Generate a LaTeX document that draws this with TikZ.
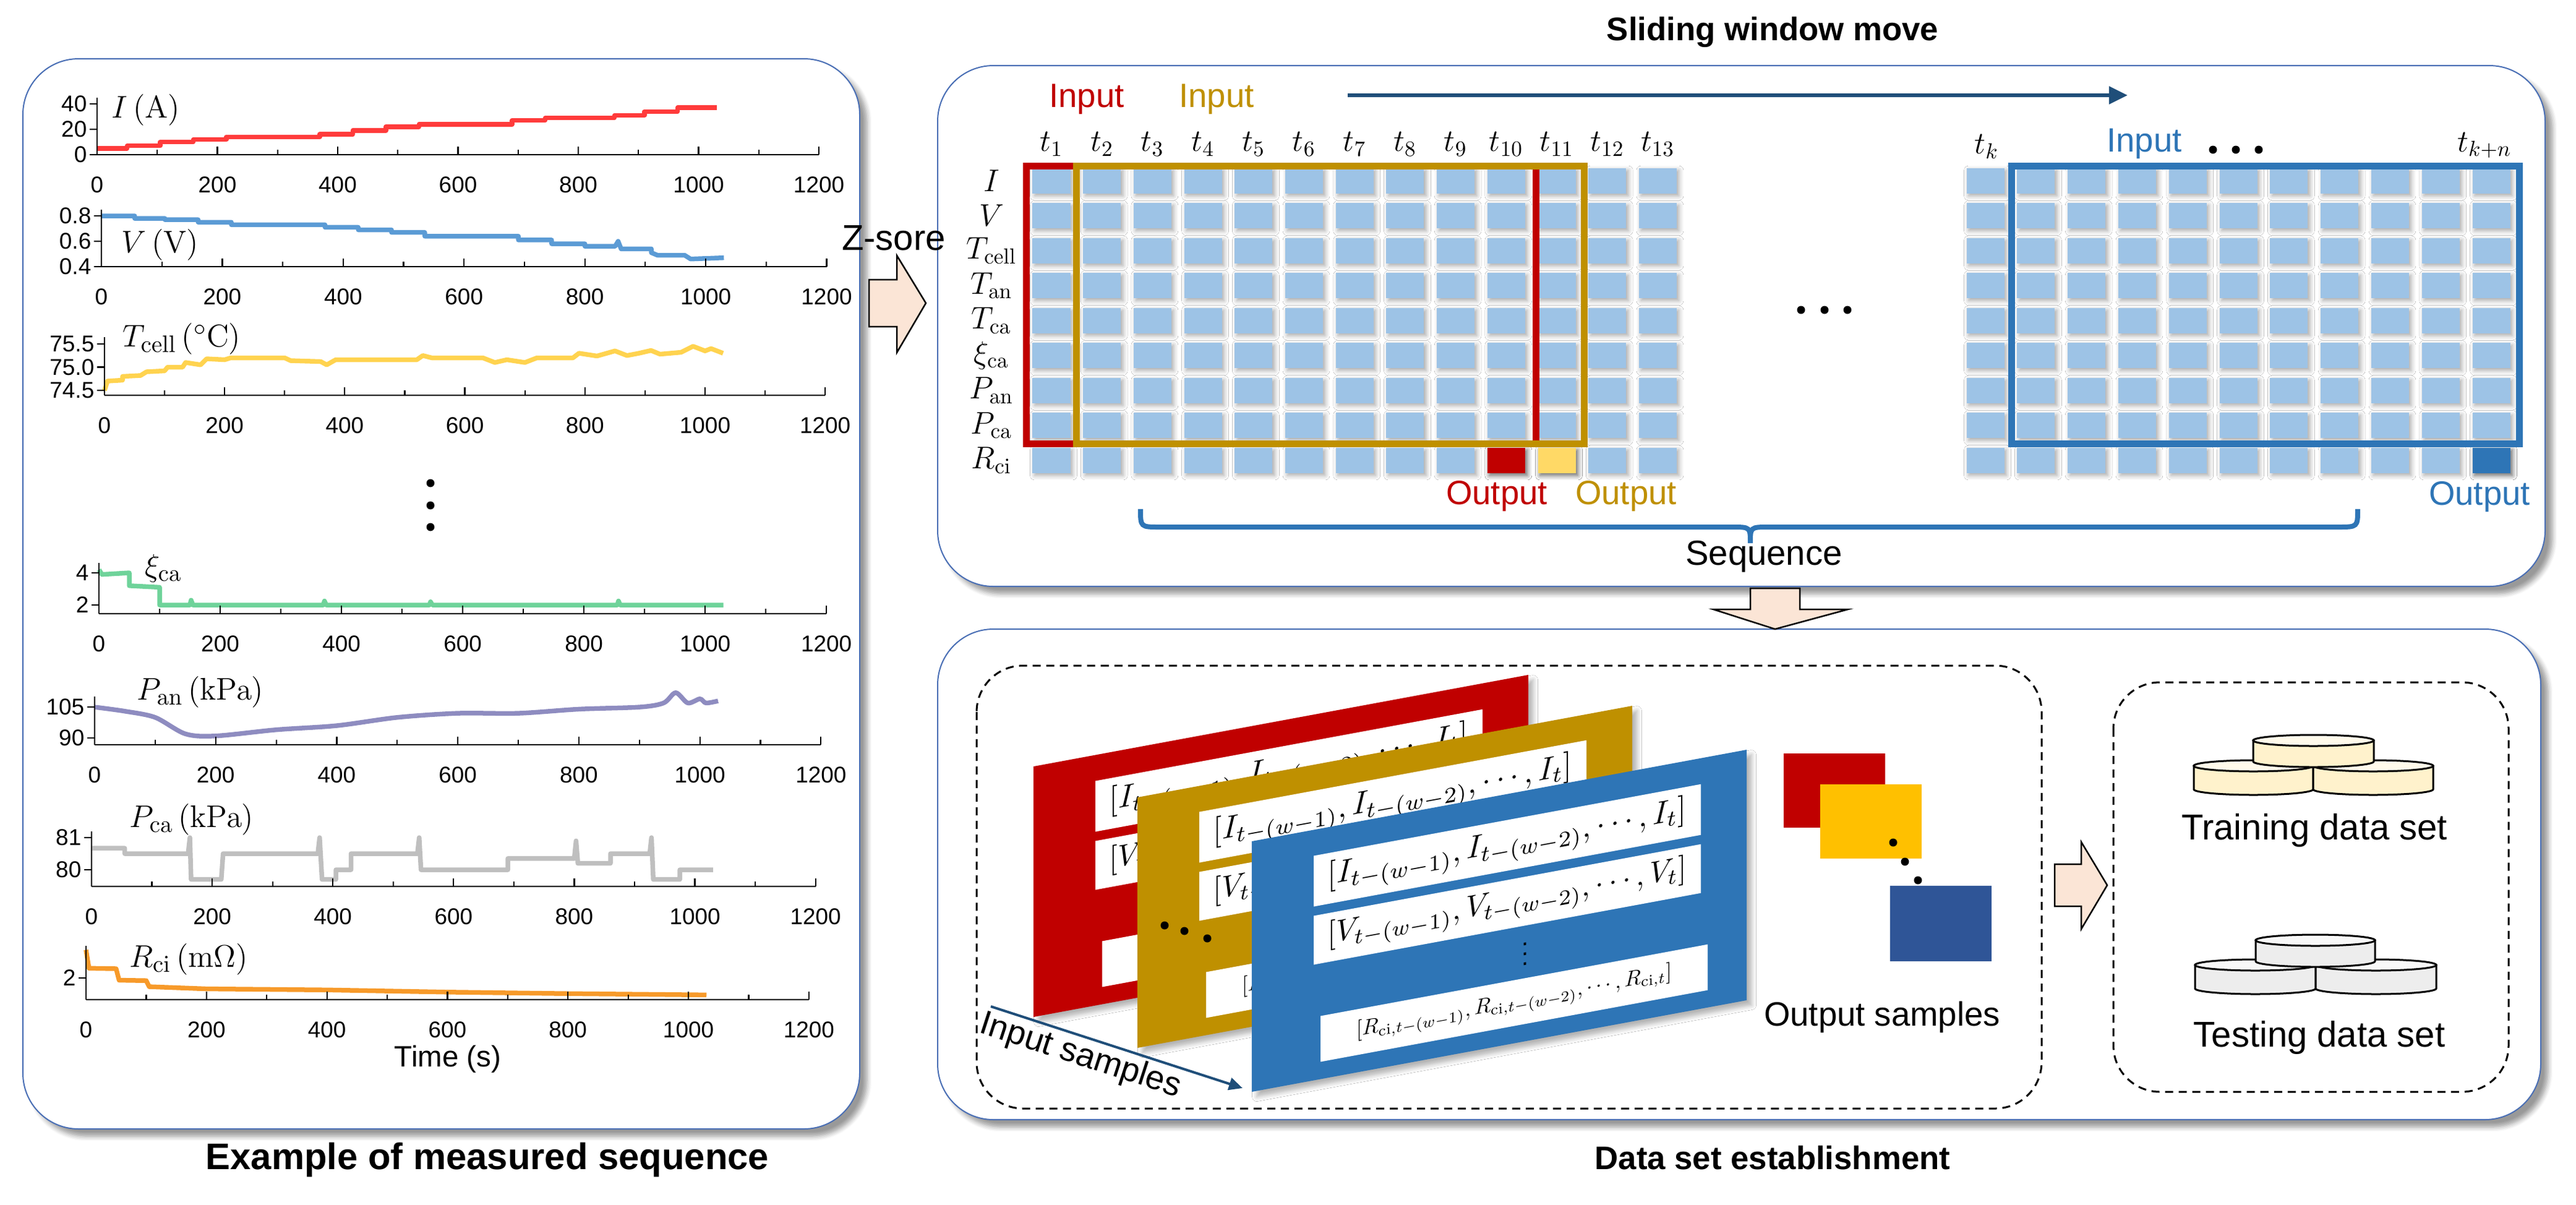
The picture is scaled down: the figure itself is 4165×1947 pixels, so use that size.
\documentclass[tikz,border=0pt]{standalone}
\usepackage[no-math]{fontspec}
\setmainfont{Liberation Sans}
\usetikzlibrary{shadows.blur,arrows.meta}
\definecolor{sqblue}{HTML}{9DC3E6}
\definecolor{ired}{HTML}{C00000}
\definecolor{igold}{HTML}{BF9000}
\definecolor{iblue}{HTML}{2E75B6}
\definecolor{oyel}{HTML}{FFD966}
\definecolor{oyel2}{HTML}{FFC000}
\definecolor{oblue}{HTML}{2F5597}
\definecolor{darr}{HTML}{1F4E79}
\definecolor{peach}{HTML}{FBE5D6}
\definecolor{pborder}{HTML}{4A6FB5}
\definecolor{cI}{HTML}{FF3B3B}
\definecolor{cV}{HTML}{5B9BD5}
\definecolor{cT}{HTML}{FFD34F}
\definecolor{cX}{HTML}{6FD39A}
\definecolor{cPa}{HTML}{8E8CC0}
\definecolor{cPc}{HTML}{BFBFBF}
\definecolor{cR}{HTML}{F79A2A}
\definecolor{dbY}{HTML}{FFF2CC}
\definecolor{dbG}{HTML}{EDEDED}
\tikzset{
 sq/.style={minimum width=0.61cm,minimum height=0.41cm,inner sep=0,fill=sqblue,draw=none,
   blur shadow={shadow blur steps=4,shadow xshift=0.035cm,shadow yshift=-0.04cm,shadow opacity=35}},
 panel/.style={draw=pborder,line width=0.02cm,rounded corners=0.9cm,fill=white,
   blur shadow={shadow blur steps=6,shadow xshift=0.12cm,shadow yshift=-0.12cm,shadow opacity=40}},
 dbox/.style={draw=black,line width=0.03cm,dash pattern=on 0.13cm off 0.09cm,rounded corners=0.75cm},
 fat/.style={fill=peach,draw=black,line width=0.025cm},
 ax/.style={line width=0.022cm,black},
 tick/.style={font=\fontsize{10.5}{12}\selectfont},
 plab/.style={font=\fontsize{15}{17}\selectfont},
 rlab/.style={font=\fontsize{14}{16}\selectfont},
 title/.style={font=\fontsize{15}{18}\selectfont\bfseries},
 io/.style={font=\fontsize{15.5}{18}\selectfont},
 bar/.style={fill=white,draw=none},
}
\newcommand{\myplot}[9]{%
 \pgfmathsetmacro\myxs{(#2-#1)/1200*0.01}%
 \pgfmathsetmacro\myys{#4*0.01}%
 \pgfmathsetmacro\myxo{#1*0.01}%
 \pgfmathsetmacro\myyo{-#3*0.01}%
 \begin{scope}[xshift=\myxo cm,yshift=\myyo cm,x=\myxs cm,y=\myys cm]
  \draw[#8,line width=0.075cm,line join=round] #9;
  \draw[ax] (0,#5) -- (1200,#5);
  \foreach \t in {0,100,...,1200}{\draw[ax] (\t,#5) -- ++(0pt,2.2pt);}
  \foreach \t in {0,200,...,1200}{\draw[ax] (\t,#5) -- ++(0pt,3.6pt);
     \node[tick,anchor=base] at ([yshift=-0.61cm]\t,#5) {\t};}
  \draw[ax] (0,#5) -- (0,#6);
  \foreach \v/\l in {#7}{\draw[ax] (0,\v) -- ++(-3.4pt,0pt);
     \node[tick,anchor=east,inner sep=0] at ([xshift=-0.16cm]0,\v) {\l};}
 \end{scope}}
\newcommand{\myslab}[3]{% x,y of top-left, colour
 \begin{scope}[shift={(#1,#2)},yslant=0.185,transform shape]
  \fill[#3,blur shadow={shadow blur steps=5,shadow xshift=0.08cm,shadow yshift=-0.08cm,shadow opacity=30}] (0,0) rectangle (800,405);
  \fill[bar] (100,42) rectangle (726,124);
  \node at (413,83) {\resizebox{5.8cm}{!}{$[I_{t-(w-1)},I_{t-(w-2)},\cdots,I_t]$}};
  \fill[bar] (100,139) rectangle (726,218);
  \node at (413,178) {\resizebox{5.8cm}{!}{$[V_{t-(w-1)},V_{t-(w-2)},\cdots,V_t]$}};
  \node at (442,252) {\resizebox{!}{0.6cm}{$\vdots$}};
  \fill[bar] (111,303) rectangle (737,377);
  \node at (424,340) {\resizebox{5.1cm}{!}{$[R_{\mathrm{ci},t-(w-1)},R_{\mathrm{ci},t-(w-2)},\cdots,R_{\mathrm{ci},t}]$}};
 \end{scope}}
\newcommand{\mydisk}[5]{% x1,x2,ytop,ybot,colour
 \pgfmathsetmacro\mrx{(#2-#1)/2}\pgfmathsetmacro\mxc{(#1+#2)/2}%
 \filldraw[fill=#5,line width=0.03cm] (#1,#3) -- (#1,#4) arc[start angle=180,end angle=0,x radius=\mrx,y radius=9] -- (#2,#3) -- cycle;
 \filldraw[fill=#5!40!white,line width=0.03cm] (\mxc,#3) ellipse[x radius=\mrx,y radius=9];}
\begin{document}
\begin{tikzpicture}[x=0.01cm,y=-0.01cm]
\useasboundingbox (0,0) rectangle (4165,1947);
% panels
\path[panel] (37,95) rectangle (1390,1825);
\path[panel] (1516,106) rectangle (4115,948);
\path[panel] (1516,1017) rectangle (4108,1810);
\node[title,font=\fontsize{17}{20}\selectfont\bfseries] (t1) at (788,1875) {Example of measured sequence};
\node[title] (t2) at (2866,52) {Sliding window move};
\node[title] (t3) at (2866,1872) {Data set establishment};
% ---- plots
\myplot{157}{1325}{250}{2.05}{0}{45}{0/0,20/20,40/40}{cI}{(0,5)--(50,5)--(50,7)--(105,7)--(105,10)--(160,10)--(160,12)--(215,12)--(215,14)--(370,14)--(370,16)--(425,16)--(425,19)--(480,19)--(480,22)--(535,22)--(535,24)--(690,24)--(690,27)--(745,27)--(745,29)--(860,29)--(860,31)--(910,31)--(910,34)--(965,34)--(965,37)--(1030,37)}
\myplot{164}{1337}{431}{205}{0}{0.45}{0/0.4,0.2/0.6,0.4/0.8}{cV}{(0,.40)--(55,.40)--(55,.38)--(105,.38)--(105,.37)--(160,.37)--(160,.35)--(215,.35)--(215,.33)--(370,.33)--(370,.31)--(425,.31)--(425,.29)--(480,.29)--(480,.27)--(535,.27)--(535,.24)--(690,.24)--(690,.21)--(745,.21)--(745,.18)--(800,.18)--(800,.16)--(850,.16)--(855,.2)--(860,.14)--(910,.14)--(910,.11)--(920,.09)--(965,.09)--(975,.06)--(1030,.07)}
\myplot{169}{1335}{631}{75}{-0.107}{1.15}{0/74.5,0.5/75.0,1/75.5}{cT}{(0,0)--(5,.2)--(30,.22)--(30,.3)--(60,.32)--(70,.4)--(100,.42)--(105,.5)--(130,.5)--(135,.6)--(160,.55)--(170,.68)--(200,.66)--(210,.7)--(300,.7)--(310,.64)--(360,.62)--(370,.55)--(385,.66)--(520,.66)--(530,.75)--(545,.7)--(630,.7)--(650,.6)--(670,.66)--(700,.6)--(720,.7)--(780,.7)--(790,.8)--(820,.74)--(850,.85)--(870,.75)--(890,.8)--(910,.86)--(925,.78)--(960,.82)--(980,.95)--(1000,.85)--(1010,.9)--(1030,.8)}
\myplot{160}{1337}{978}{26}{-0.54}{2.6}{0/2,2/4}{cX}{(0,2.2)--(5,1.9)--(50,2.0)--(50,1.2)--(100,1.1)--(100,0)--(150,0)--(152,0.3)--(155,0)--(370,0)--(372,0.25)--(375,0)--(545,0)--(547,0.2)--(550,0)--(855,0)--(857,0.25)--(860,0)--(1030,0)}
\myplot{153}{1328}{1193}{3.33}{-3.3}{20}{0/90,15/105}{cPa}{plot[smooth] coordinates {(0,15)(50,13)(100,10)(150,2)(200,1)(300,4)(400,6)(500,10)(600,12)(700,12)(800,14)(900,15)(940,17)(960,22)(980,17)(1000,19)(1010,17)(1030,18)}}
\myplot{148}{1320}{1406}{52}{-0.52}{1.2}{0/80,1/81}{cPc}{(0,.67)--(55,.67)--(55,.5)--(160,.5)--(163,1.0)--(165,-.3)--(215,-.3)--(218,.5)--(375,.5)--(378,1.0)--(382,-.3)--(405,-.3)--(405,0)--(430,0)--(430,.5)--(540,.5)--(543,1.0)--(546,0)--(690,0)--(690,.35)--(800,.35)--(803,.9)--(806,.2)--(860,.2)--(860,.5)--(925,.5)--(928,1.0)--(931,-.3)--(975,-.3)--(975,0)--(1030,0)}
\myplot{139}{1309}{1581}{35}{-1.0}{1.5}{0/2}{cR}{(0,1.3)--(5,.45)--(50,.43)--(55,-.1)--(100,-.12)--(105,-.4)--(200,-.5)--(400,-.55)--(600,-.65)--(800,-.72)--(1030,-.78)}
\node[plab] (lI) at (236,178) {$I\,(\mathrm{A})$};
\node[plab] (lV) at (259,396) {$V\,(\mathrm{V})$};
\node[plab] (lT) at (294,548) {$T_{\mathrm{cell}}\,({}^\circ\mathrm{C})$};
\node[plab] (lX) at (264,919) {$\xi_{\mathrm{ca}}$};
\node[plab] (lPa) at (324,1119) {$P_{\mathrm{an}}\,(\mathrm{kPa})$};
\node[plab] (lPc) at (310,1325) {$P_{\mathrm{ca}}\,(\mathrm{kPa})$};
\node[plab] (lR) at (305,1551) {$R_{\mathrm{ci}}\,(\mathrm{m\Omega})$};
\node[font=\fontsize{13.5}{15}\selectfont] (tm) at (724,1712) {Time (s)};
\foreach \yy in {781,817,852}{\fill (696,\yy) circle (6.5);}
% ---- Z-score arrow
\node[font=\fontsize{16.5}{19}\selectfont] (zs) at (1445,385) {Z-sore};
\filldraw[fat] (1405,452) -- (1450,452) -- (1450,413) -- (1497,490) -- (1450,570) -- (1450,528) -- (1405,528) -- cycle;
% ---- grid left
\foreach \i in {1,...,13}{\foreach \j in {1,...,9}{
  \pgfmathsetmacro\cx{1700+81.7*(\i-1)}\pgfmathsetmacro\cy{292+56.5*(\j-1)}
  \node[sq] (a-\i-\j) at (\cx,\cy) {};}
  \pgfmathsetmacro\cx{1700+81.7*(\i-1)}
  \node[rlab] (c-\i) at (\cx,233) {$t_{\i}$};}
\node[sq,fill=ired] (o1) at (a-10-9) {};
\node[sq,fill=oyel] (o2) at (a-11-9) {};
\foreach \l [count=\j] in {I,V,T_{\mathrm{cell}},T_{\mathrm{an}},T_{\mathrm{ca}},\xi_{\mathrm{ca}},P_{\mathrm{an}},P_{\mathrm{ca}},R_{\mathrm{ci}}}{
  \pgfmathsetmacro\cy{292+56.5*(\j-1)}
  \node[rlab] (r-\j) at (1603,\cy) {$\l$};}
\draw[ired,line width=0.11cm] (1659,268) rectangle (2483,717);
\draw[igold,line width=0.11cm] (1740,268) rectangle (2561,717);
\node[io,text=ired] (in1) at (1757,160) {Input};
\node[io,text=igold] (in2) at (1967,160) {Input};
\node[io,text=ired] (out1) at (2420,802) {Output};
\node[io,text=igold] (out2) at (2629,802) {Output};
% ---- grid right
\foreach \i in {1,...,11}{\foreach \j in {1,...,9}{
  \pgfmathsetmacro\cx{3210+81.8*(\i-1)}\pgfmathsetmacro\cy{292+56.5*(\j-1)}
  \node[sq] (b-\i-\j) at (\cx,\cy) {};}}
\node[sq,fill=iblue] (o3) at (b-11-9) {};
\draw[iblue,line width=0.11cm] (3252,268) rectangle (4073,717);
\node[rlab] (ck) at (3212,237) {$t_{k}$};
\node[rlab] (ckn) at (4017,235) {$t_{k+n}$};
\node[io,text=iblue] (in3) at (3467,232) {Input};
\node[io,text=iblue] (out3) at (4009,803) {Output};
\foreach \xx in {3578,3615,3652}{\fill (\xx,242) circle (6.5);}
\foreach \xx in {2912,2950,2987}{\fill (\xx,501) circle (6.5);}
% move arrow
\coordinate (m1) at (2179,154); \coordinate (m2) at (3440,154);
\draw[darr,line width=0.055cm,-{Triangle[length=0.3cm,width=0.28cm]}] (m1) -- (m2);
% sequence brace
\draw[iblue,line width=0.08cm] (1844,823) .. controls (1844,852) .. (1875,852) -- (2800,852) .. controls (2830,852) .. (2830,878) .. controls (2830,852) .. (2860,852) -- (3780,852) .. controls (3812,852) .. (3812,823);
\node[font=\fontsize{16}{18}\selectfont] (seq) at (2852,900) {Sequence};
% down arrow
\filldraw[fat] (2830,951) -- (2910,951) -- (2910,985) -- (2988,985) -- (2870,1017) -- (2770,985) -- (2830,985) -- cycle;
% ---- bottom panel
\path[dbox] (1579,1076) rectangle (3301,1792);
\path[dbox] (3417,1103) rectangle (4056,1765);
\myslab{1671}{1239}{ired}
\myslab{1839}{1289}{igold}
\myslab{2024}{1360}{iblue}
\foreach \xx/\yy in {1883/1496,1915/1505,1952/1517}{\fill (\xx,\yy) circle (6.5);}
\coordinate (s1) at (1602,1627); \coordinate (s2) at (2009,1759);
\draw[darr,line width=0.04cm,-{Triangle[length=0.22cm,width=0.2cm]}] (s1) -- (s2) node[pos=0.38,sloped,below=-2pt,io,text=black] {Input samples};
\node[fill=ired,minimum width=1.63cm,minimum height=1.2cm,inner sep=0] (os1) at (2966,1278) {};
\node[fill=oyel2,minimum width=1.64cm,minimum height=1.2cm,inner sep=0] (os2) at (3025,1328) {};
\node[fill=oblue,minimum width=1.63cm,minimum height=1.21cm,inner sep=0] (os3) at (3138,1493) {};
\foreach \xx/\yy in {3061/1362,3080/1393,3101/1423}{\fill (\xx,\yy) circle (6.5);}
\node[io] (osl) at (3043,1644) {Output samples};
\filldraw[fat] (3322,1397) -- (3365,1397) -- (3365,1361) -- (3407,1431) -- (3365,1502) -- (3365,1465) -- (3322,1465) -- cycle;
% databases
\mydisk{3547}{3740}{1238}{1276}{dbY}
\mydisk{3740}{3934}{1238}{1276}{dbY}
\mydisk{3643}{3838}{1197}{1231}{dbY}
\mydisk{3549}{3744}{1560}{1598}{dbG}
\mydisk{3744}{3939}{1560}{1598}{dbG}
\mydisk{3647}{3840}{1520}{1554}{dbG}
\node[font=\fontsize{16.5}{19}\selectfont] (tr) at (3742,1342) {Training data set};
\node[font=\fontsize{16.5}{19}\selectfont] (te) at (3750,1677) {Testing data set};
\end{tikzpicture}
\end{document}
